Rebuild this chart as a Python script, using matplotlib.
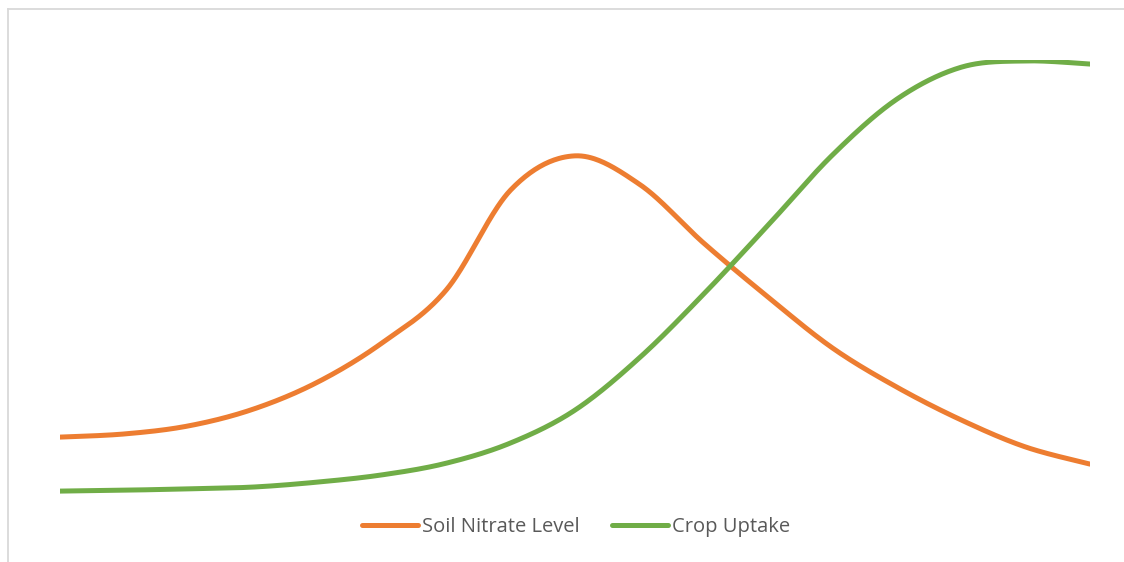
import numpy as np
import matplotlib
matplotlib.use("Agg")
import matplotlib.pyplot as plt
from matplotlib.lines import Line2D

# Data (arbitrary 0-100 scale)
periods = list(range(17))
soil_nitrate = [16.2, 16.9, 18.7, 22.4, 28.4, 37.1, 48.9, 71.1, 78.7, 72.4,
                59.3, 47.3, 36.0, 27.3, 20.0, 14.0, 10.2]
crop_uptake = [4.2, 4.4, 4.7, 5.1, 6.2, 7.8, 10.4, 14.9, 22.2, 33.8,
               48.0, 63.3, 78.9, 91.3, 98.4, 99.8, 99.1]
series_names = ["Soil Nitrate Level", "Crop Uptake"]
series_colors = ["#ED7D31", "#70AD47"]


def smooth(x, y, n=40):
    """Catmull-Rom / Bezier smoothing like Excel's smoothed lines."""
    x = np.asarray(x, float)
    y = np.asarray(y, float)
    P = np.column_stack([x, y])
    out = []
    for i in range(len(P) - 1):
        p0 = P[i - 1] if i > 0 else P[i]
        p1 = P[i]
        p2 = P[i + 1]
        p3 = P[i + 2] if i + 2 < len(P) else P[i + 1]
        c1 = p1 + (p2 - p0) / 6.0
        c2 = p2 - (p3 - p1) / 6.0
        t = np.linspace(0, 1, n, endpoint=(i == len(P) - 2))[:, None]
        seg = ((1 - t) ** 3) * p1 + 3 * ((1 - t) ** 2) * t * c1 + 3 * (1 - t) * t ** 2 * c2 + t ** 3 * p2
        out.append(seg)
    out = np.vstack(out)
    return out[:, 0], out[:, 1]


W, H = 1124, 562
fig = plt.figure(figsize=(W / 100, H / 100), dpi=100)
fig.patch.set_facecolor("white")

# chart border (top and left visible)
fig.add_artist(Line2D([8 / W, 1.0], [1 - 9 / H, 1 - 9 / H], color="#d9d9d9", lw=1.3,
                      transform=fig.transFigure))
fig.add_artist(Line2D([8 / W, 8 / W], [0, 1 - 9 / H], color="#d9d9d9", lw=1.3,
                      transform=fig.transFigure))

ax = fig.add_axes([60 / W, (H - 510) / H, 1030 / W, 450 / H])
ax.set_xlim(0, 16)
ax.set_ylim(0, 100)
ax.axis("off")

for vals, name, col in zip([soil_nitrate, crop_uptake], series_names, series_colors):
    sx, sy = smooth(periods, vals)
    ax.plot(sx, sy, color=col, lw=3.6, solid_capstyle="round", label=name)

handles = [Line2D([], [], color=c, lw=3.6, solid_capstyle="round") for c in series_colors]
leg = fig.legend(handles, series_names, loc="center", bbox_to_anchor=(576 / W, 1 - 527 / H),
                 ncol=2, frameon=False, handlelength=2.8, handletextpad=0.2,
                 columnspacing=1.6, prop={"family": "Open Sans", "size": 14.5})
for t in leg.get_texts():
    t.set_color("#595959")

fig.savefig("out.png", dpi=100, facecolor="white")
